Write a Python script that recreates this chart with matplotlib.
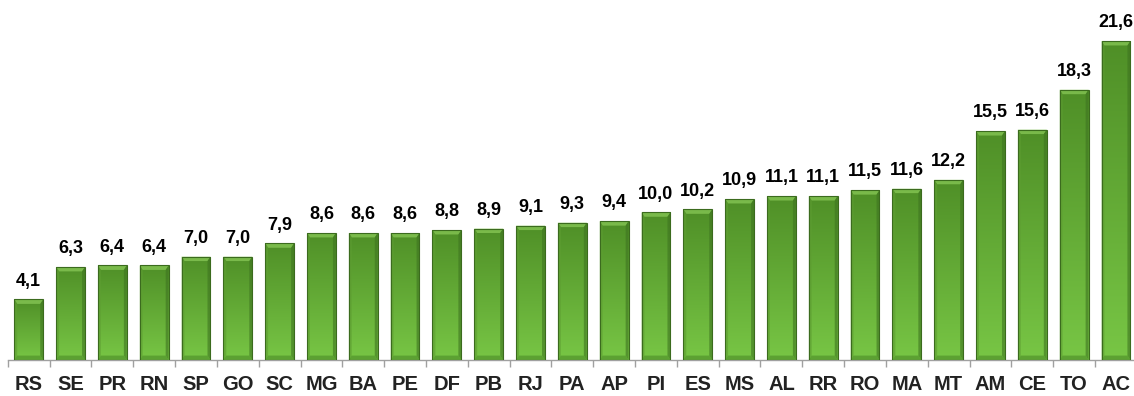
import matplotlib
matplotlib.use('Agg')
import matplotlib.pyplot as plt
import numpy as np
from matplotlib.patches import Polygon

# States and values
states = ['RS', 'SE', 'PR', 'RN', 'SP', 'GO', 'SC', 'MG', 'BA', 'PE', 'DF', 'PB', 'RJ', 'PA',
          'AP', 'PI', 'ES', 'MS', 'AL', 'RR', 'RO', 'MA', 'MT', 'AM', 'CE', 'TO', 'AC']
values = [4.1, 6.3, 6.4, 6.4, 7.0, 7.0, 7.9, 8.6, 8.6, 8.6, 8.8, 8.9, 9.1, 9.3,
          9.4, 10.0, 10.2, 10.9, 11.1, 11.1, 11.5, 11.6, 12.2, 15.5, 15.6, 18.3, 21.6]
labels = [f'{v:.1f}'.replace('.', ',') for v in values]

plt.rcParams['font.family'] = ['Liberation Sans', 'DejaVu Sans']

fig = plt.figure(figsize=(11.34, 3.96), dpi=100)
ax = fig.add_axes([0.0069, 0.0909, 0.9956, 0.895])
x = np.arange(len(states))
ax.set_xlim(-0.5, len(states) - 0.5)
ax.set_ylim(0, 24)

bars = ax.bar(x, values, width=0.69, color='none', edgecolor='none', zorder=2)

# vertical gradient for bar fill
grad = np.linspace(0, 1, 256).reshape(-1, 1)
cmap = matplotlib.colors.LinearSegmentedColormap.from_list('g', ['#78c645', '#4f8f27'])

bx = 0.07   # bevel width in x (data units)
by = 0.3    # bevel height in y (data units)
for b in bars:
    x0, y0 = b.get_x(), b.get_y()
    w, h = b.get_width(), b.get_height()
    x1, y1 = x0 + w, y0 + h
    im = ax.imshow(grad, extent=[x0, x1, y0, y1], origin='lower', cmap=cmap,
                   aspect='auto', zorder=2)
    im.set_clip_path(b)
    # bevel faces
    faces = [
        ([(x0, y1), (x1, y1), (x1 - bx, y1 - by), (x0 + bx, y1 - by)], '#8ccc5a', 0.7),
        ([(x0, y0), (x0 + bx, y0 + by), (x0 + bx, y1 - by), (x0, y1)], '#5e9e32', 0.6),
        ([(x1, y0), (x1, y1), (x1 - bx, y1 - by), (x1 - bx, y0 + by)], '#3e7420', 0.6),
        ([(x0, y0), (x1, y0), (x1 - bx, y0 + by), (x0 + bx, y0 + by)], '#4a8a26', 0.6),
    ]
    for pts, c, a in faces:
        ax.add_patch(Polygon(pts, closed=True, facecolor=c, edgecolor='none', alpha=a, zorder=3))
    ax.add_patch(Polygon([(x0, y0), (x1, y0), (x1, y1), (x0, y1)], closed=True,
                         facecolor='none', edgecolor='#3b6b1e', linewidth=0.8, zorder=4))

for xi, v, lab in zip(x, values, labels):
    ax.annotate(lab, (xi, v), xytext=(0, 7), textcoords='offset points',
                ha='center', va='bottom', fontsize=13, fontweight='bold', color='black')

for s in ['top', 'right', 'left']:
    ax.spines[s].set_visible(False)
ax.spines['bottom'].set_color('#a0a0a0')
ax.spines['bottom'].set_linewidth(1.0)
ax.set_yticks([])
ax.set_xticks(x)
ax.set_xticklabels(states, fontsize=14.5, fontweight='bold', color='#222222')
ax.tick_params(axis='x', length=0, pad=11)
ax.set_xticks(np.arange(-0.5, len(states), 1), minor=True)
ax.tick_params(axis='x', which='minor', length=5, color='#a0a0a0', width=1)

fig.savefig('out.png', dpi=100, facecolor='white')
